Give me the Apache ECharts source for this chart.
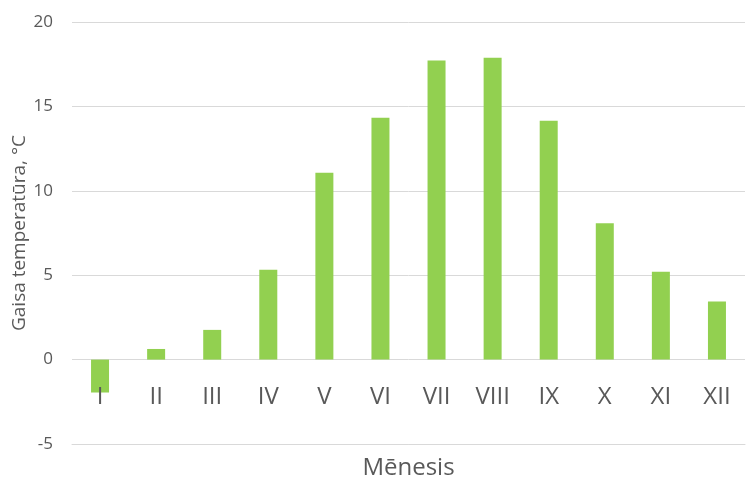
<!DOCTYPE html>
<html>
<head>
<meta charset="utf-8">
<script src="https://cdn.jsdelivr.net/npm/echarts@6/dist/echarts.min.js"></script>
<style>
  html, body { margin: 0; padding: 0; background: #fff; }
  #chart { width: 746px; height: 492px; }
</style>
</head>
<body>
<div id="chart"></div>
<script>
const MONTHS = ['I', 'II', 'III', 'IV', 'V', 'VI', 'VII', 'VIII', 'IX', 'X', 'XI', 'XII']
const TEMPS  = [-1.95, 0.63, 1.76, 5.32, 11.07, 14.33, 17.72, 17.88, 14.15, 8.08, 5.2, 3.44]
const Y_MIN = -5
const Y_MAX = 20
const Y_STEP = 5

const TEXT = '#595959'
const GRID = '#d9d9d9'
const FONT = '"Open Sans", sans-serif'

const chart = echarts.init(document.getElementById('chart'), null, { renderer: 'canvas' })

chart.setOption({
  animation: false,
  backgroundColor: '#fff',
  grid: {
    left: 72, right: 1, top: 22, bottom: 48,
    containLabel: false,
    outerBoundsMode: 'none',
  },
  xAxis: {
    type: 'category',
    data: MONTHS,
    z: 3,
    name: 'Mēnesis',
    nameLocation: 'middle',
    nameGap: 12,
    nameTextStyle: { color: TEXT, fontFamily: FONT, fontSize: 24 },
    axisLine: { onZero: false, lineStyle: { color: GRID, width: 1 } },
    axisTick: { show: false },
    // labels sit just under the zero line, as in the original
    axisLabel: { color: TEXT, fontFamily: FONT, fontSize: 24, margin: -59 },
  },
  yAxis: {
    type: 'value',
    min: Y_MIN,
    max: Y_MAX,
    interval: Y_STEP,
    name: 'Gaisa temperatūra, °C',
    nameLocation: 'middle',
    nameRotate: 90,
    nameGap: 43,
    nameMoveOverlap: false,
    nameTextStyle: { color: TEXT, fontFamily: FONT, fontSize: 19 },
    axisLine: { show: false },
    axisTick: { show: false },
    axisLabel: { color: TEXT, fontFamily: FONT, fontSize: 17, margin: 19 },
    splitLine: { lineStyle: { color: GRID, width: 1 } },
  },
  series: [
    {
      type: 'bar',
      data: TEMPS,
      barWidth: 18,
      itemStyle: { color: '#92d050' },
    },
  ],
})
</script>
</body>
</html>
